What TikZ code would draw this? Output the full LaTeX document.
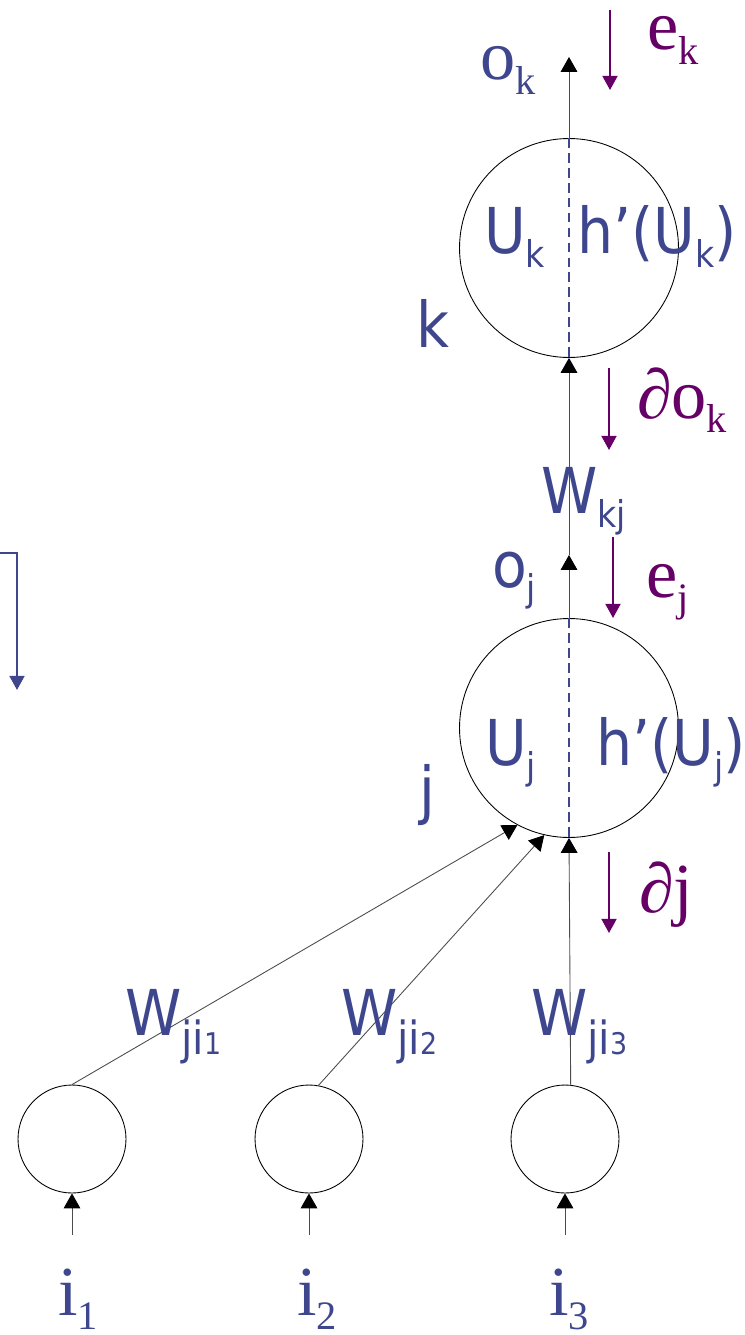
\documentclass[tikz,border=0pt]{standalone}
\usepackage{fontspec}
\setmainfont[FakeStretch=0.9]{DejaVu Sans}
\newfontfamily\serifx{Liberation Serif}
\usetikzlibrary{arrows.meta,positioning}
\definecolor{navy}{RGB}{62,71,142}
\definecolor{plum}{RGB}{102,0,102}
\newcommand{\subtxt}[1]{\raisebox{-8.5pt}{\fontsize{21}{21}\selectfont #1}}
\newcommand{\subser}[1]{\raisebox{-8.5pt}{\fontsize{23}{23}\selectfont #1}}
\newcommand{\subdig}[1]{{\fontsize{17}{17}\selectfont #1}}

\begin{document}
\begin{tikzpicture}[
  x=0.02cm, y=-0.02cm,
  neuron/.style={circle,draw=black,line width=0.5pt,minimum size=4.38cm,inner sep=0pt},
  innode/.style={circle,draw=black,line width=0.5pt,minimum size=2.16cm,inner sep=0pt},
  conn/.style={draw=black!70,line width=0.5pt,-{Triangle[length=8.5pt,width=9.5pt,color=black]}},
  grad/.style={draw=plum,line width=1.1pt,-{Triangle[length=8pt,width=8.5pt]}},
  split/.style={draw=navy,line width=1.1pt,dash pattern=on 5.5pt off 3pt},
  lbl/.style={inner sep=1pt,anchor=base west,text=navy,font=\fontsize{36}{40}\selectfont},
  slbl/.style={inner sep=1pt,anchor=base west,text=navy,font=\serifx\fontsize{40}{44}\selectfont},
  glbl/.style={inner sep=1pt,anchor=base west,text=plum,font=\serifx\fontsize{40}{44}\selectfont},
]
\useasboundingbox (0,0) rectangle (744,1335);

%% neurons
\node[neuron] (k) at (569,248) {};
\node[neuron] (j) at (569,728) {};
\node[innode] (in1) at (72,1139) {};
\node[innode] (in2) at (309,1139) {};
\node[innode] (in3) at (565,1139) {};

\draw[split] (k.north) -- (k.south);
\draw[split] (j.north) -- (j.south);

%% forward path
\coordinate (ok) at (569,57);
\coordinate (oj) at (569,555);
\draw[conn] (k.north) -- (ok);
\draw[conn] (j.north) -- (oj);
\draw[conn] (oj) -- (k.south);

\draw[conn] (in1.north) -- (j.242);
\draw[conn] (in2.80) -- (j.257);
\draw[conn] (in3.84) -- (j.south);

\foreach \n/\x in {1/72,2/309,3/565} {
  \coordinate (src\n) at (\x,1235);
  \draw[conn] (src\n) -- (in\n.south);
}

%% error path
\coordinate (ekA) at (610,10);  \coordinate (ekB) at (610,90);
\coordinate (dkA) at (609,368); \coordinate (dkB) at (609,450);
\coordinate (ejA) at (613,537); \coordinate (ejB) at (613,618);
\coordinate (djA) at (609,852); \coordinate (djB) at (609,933);
\draw[grad] (ekA) -- (ekB);
\draw[grad] (dkA) -- (dkB);
\draw[grad] (ejA) -- (ejB);
\draw[grad] (djA) -- (djB);

\coordinate (bkA) at (-5,553);
\coordinate (bkB) at (17,553);
\coordinate (bkC) at (17,690);
\draw[draw=navy,line width=1.1pt,-{Triangle[length=8pt,width=8.5pt]}] (bkA) -- (bkB) -- (bkC);

%% labels
\node[slbl] (lok) at (478,80) {o\subser{k}};
\node[glbl] (lek) at (645,50) {e\subser{k}};
\node[lbl]  (luk) at (482,253) {U\subtxt{k}};
\node[lbl]  (lhk) at (575,253) {h’(U\subtxt{k})};
\node[lbl]  (lk)  at (414,347) {k};
\node[glbl] (ldk) at (635,418) {∂o\subser{k}};
\node[lbl]  (lwk) at (539,513) {W\subtxt{kj}};
\node[lbl]  (loj) at (490,587) {o\subtxt{j}};
\node[glbl] (lej) at (644,597) {e\subser{j}};
\node[lbl]  (luj) at (483,765) {U\subtxt{j}};
\node[lbl]  (lhj) at (594,765) {h’(U\subtxt{j})};
\node[lbl]  (lj)  at (417,812) {j};
\node[glbl] (ldj) at (637,912) {∂j};

\foreach \n/\x in {1/123,2/339,3/529}
  \node[lbl] (lw\n) at (\x,1035) {W\raisebox{-11pt}{\fontsize{26}{26}\selectfont ji\subdig{\n}}};
\foreach \n/\x in {1/56,2/295,3/547}
  \node[slbl] (li\n) at (\x,1315) {i\subser{\n}};
\end{tikzpicture}
\end{document}
